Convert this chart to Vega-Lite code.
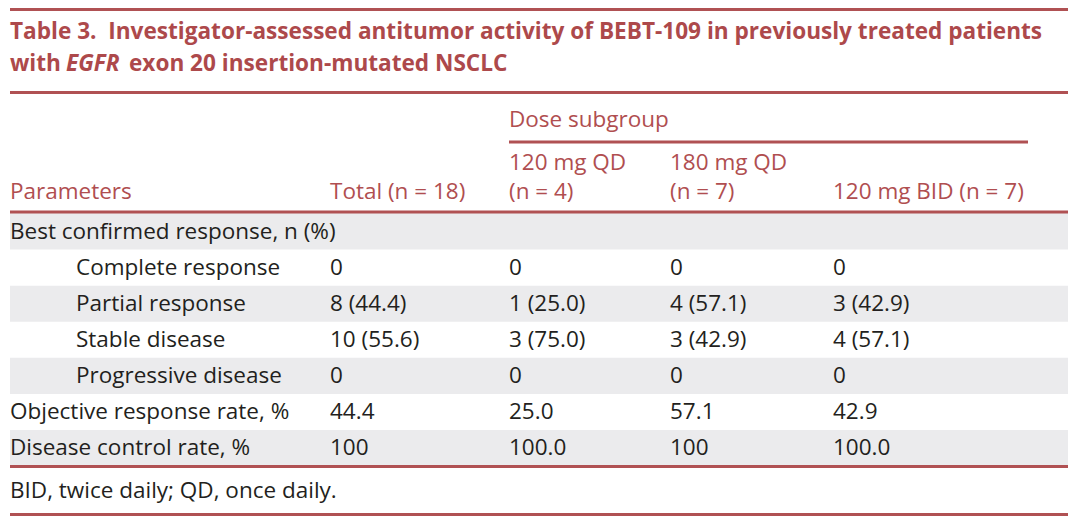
{
  "$schema": "https://vega.github.io/schema/vega-lite/v6.json",
  "width": 1080,
  "height": 527,
  "autosize": {"type": "fit", "contains": "padding"},
  "padding": 0,
  "background": "white",
  "config": {"view": {"stroke": null}, "text": {"font": "Open Sans"}},
  "datasets": {
    "bands": [
      {"r0": 4.5, "r1": 5.5},
      {"r0": 6.5, "r1": 7.5},
      {"r0": 8.5, "r1": 9.5},
      {"r0": 10.5, "r1": 11.5}
    ],
    "rules": [
      {"r": -0.5, "c0": 0, "c1": 7},
      {"r": 1.5, "c0": 0, "c1": 7},
      {"r": 2.5, "c0": 3, "c1": 6},
      {"r": 4.5, "c0": 0, "c1": 7},
      {"r": 11.5, "c0": 0, "c1": 7},
      {"r": 12.5, "c0": 0, "c1": 7}
    ],
    "title": [
      {"r": 0, "c": 0, "text": "Table 3.\u00a0 Investigator-assessed antitumor activity of BEBT-109 in previously treated patients"},
      {"r": 1, "c": 0, "text": "with"}
    ],
    "titleItalic": [
      {"r": 1, "c": 0, "text": "EGFR"}
    ],
    "titleRest": [
      {"r": 1, "c": 0, "text": "exon 20 insertion-mutated NSCLC"}
    ],
    "header": [
      {"r": 2, "c": 3, "text": "Dose subgroup"},
      {"r": 3, "c": 3, "text": "120 mg QD"},
      {"r": 3, "c": 4, "text": "180 mg QD"},
      {"r": 4, "c": 0, "text": "Parameters"},
      {"r": 4, "c": 2, "text": "Total (n = 18)"},
      {"r": 4, "c": 3, "text": "(n = 4)"},
      {"r": 4, "c": 4, "text": "(n = 7)"},
      {"r": 4, "c": 5, "text": "120 mg BID (n = 7)"}
    ],
    "cells": [
      {"r": 5, "c": 0, "text": "Best confirmed response, n (%)"},
      {"r": 6, "c": 1, "text": "Complete response"},
      {"r": 6, "c": 2, "text": "0"},
      {"r": 6, "c": 3, "text": "0"},
      {"r": 6, "c": 4, "text": "0"},
      {"r": 6, "c": 5, "text": "0"},
      {"r": 7, "c": 1, "text": "Partial response"},
      {"r": 7, "c": 2, "text": "8 (44.4)"},
      {"r": 7, "c": 3, "text": "1 (25.0)"},
      {"r": 7, "c": 4, "text": "4 (57.1)"},
      {"r": 7, "c": 5, "text": "3 (42.9)"},
      {"r": 8, "c": 1, "text": "Stable disease"},
      {"r": 8, "c": 2, "text": "10 (55.6)"},
      {"r": 8, "c": 3, "text": "3 (75.0)"},
      {"r": 8, "c": 4, "text": "3 (42.9)"},
      {"r": 8, "c": 5, "text": "4 (57.1)"},
      {"r": 9, "c": 1, "text": "Progressive disease"},
      {"r": 9, "c": 2, "text": "0"},
      {"r": 9, "c": 3, "text": "0"},
      {"r": 9, "c": 4, "text": "0"},
      {"r": 9, "c": 5, "text": "0"},
      {"r": 10, "c": 0, "text": "Objective response rate, %"},
      {"r": 10, "c": 2, "text": "44.4"},
      {"r": 10, "c": 3, "text": "25.0"},
      {"r": 10, "c": 4, "text": "57.1"},
      {"r": 10, "c": 5, "text": "42.9"},
      {"r": 11, "c": 0, "text": "Disease control rate, %"},
      {"r": 11, "c": 2, "text": "100"},
      {"r": 11, "c": 3, "text": "100.0"},
      {"r": 11, "c": 4, "text": "100"},
      {"r": 11, "c": 5, "text": "100.0"},
      {"r": 12, "c": 0, "text": "BID, twice daily; QD, once daily."}
    ]
  },
  "layer": [
    {
      "data": {"name": "bands"},
      "mark": {"type": "rect", "color": "#ebebed"},
      "encoding": {
        "x": {"datum": 0, "type": "quantitative", "scale": {"domain": [0, 1, 2, 3, 4, 5, 6, 7], "range": [10, 76, 330, 509, 670, 833, 1028, 1068], "zero": false, "nice": false}, "axis": null},
        "x2": {"datum": 7},
        "y": {"field": "r0", "type": "quantitative", "scale": {"domain": [-0.5, 0, 1, 1.5, 2, 2.5, 3, 4, 4.5, 5, 11, 11.5, 12, 12.5], "range": [9.5, 31.5, 64, 92.5, 120, 142, 163, 192, 212, 231.5, 448, 466.5, 491, 514.5], "zero": false, "nice": false}, "axis": null},
        "y2": {"field": "r1"}
      }
    },
    {
      "data": {"name": "rules"},
      "mark": {"type": "rule", "color": "#b05153", "strokeWidth": 3},
      "encoding": {
        "x": {"field": "c0", "type": "quantitative"},
        "x2": {"field": "c1"},
        "y": {"field": "r", "type": "quantitative"}
      }
    },
    {
      "data": {"name": "title"},
      "mark": {"type": "text", "align": "left", "baseline": "middle", "fontSize": 22.6, "fontWeight": "bold", "color": "#ad494b"},
      "encoding": {
        "x": {"field": "c", "type": "quantitative"},
        "y": {"field": "r", "type": "quantitative"},
        "text": {"field": "text"}
      }
    },
    {
      "data": {"name": "titleItalic"},
      "mark": {"type": "text", "align": "left", "baseline": "middle", "fontSize": 22.6, "fontWeight": "bold", "fontStyle": "italic", "color": "#ad494b", "dx": 56},
      "encoding": {
        "x": {"field": "c", "type": "quantitative"},
        "y": {"field": "r", "type": "quantitative"},
        "text": {"field": "text"}
      }
    },
    {
      "data": {"name": "titleRest"},
      "mark": {"type": "text", "align": "left", "baseline": "middle", "fontSize": 22.6, "fontWeight": "bold", "color": "#ad494b", "dx": 119},
      "encoding": {
        "x": {"field": "c", "type": "quantitative"},
        "y": {"field": "r", "type": "quantitative"},
        "text": {"field": "text"}
      }
    },
    {
      "data": {"name": "header"},
      "mark": {"type": "text", "align": "left", "baseline": "middle", "fontSize": 22.5, "color": "#b04e50"},
      "encoding": {
        "x": {"field": "c", "type": "quantitative"},
        "y": {"field": "r", "type": "quantitative"},
        "text": {"field": "text"}
      }
    },
    {
      "data": {"name": "cells"},
      "mark": {"type": "text", "align": "left", "baseline": "middle", "fontSize": 22.5, "color": "#231f20"},
      "encoding": {
        "x": {"field": "c", "type": "quantitative"},
        "y": {"field": "r", "type": "quantitative"},
        "text": {"field": "text"}
      }
    }
  ]
}
